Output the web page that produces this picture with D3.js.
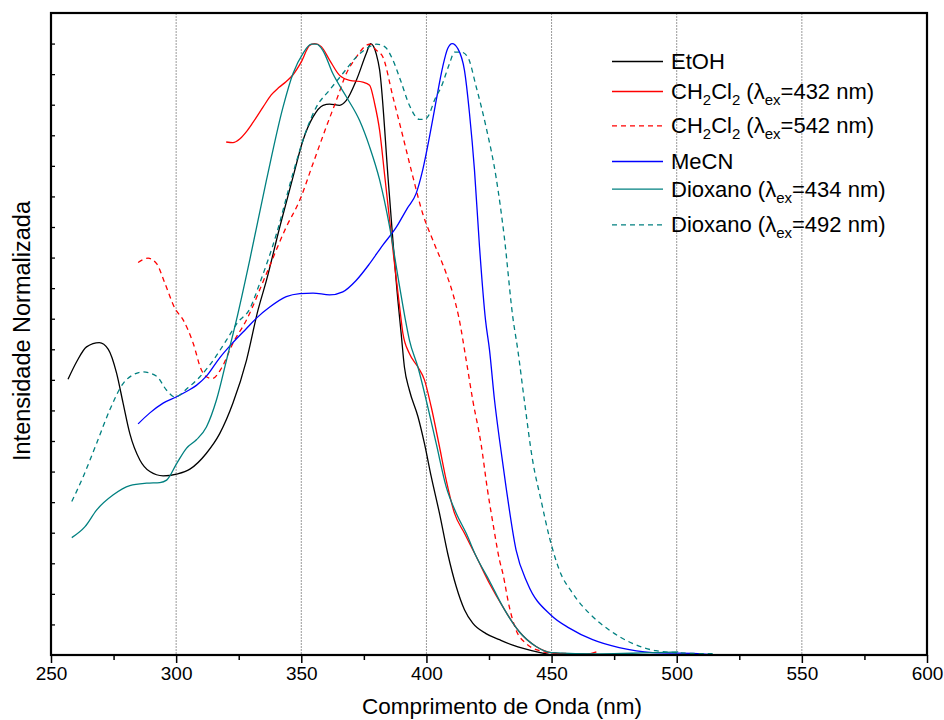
<!DOCTYPE html>
<html>
<head>
<meta charset="utf-8">
<script src="https://cdn.jsdelivr.net/npm/d3@7"></script>
<style>
  html, body { margin: 0; padding: 0; background: #fff; }
  svg { display: block; font-family: "Liberation Sans", Arial, Helvetica, sans-serif; }
</style>
</head>
<body>
<svg id="chart" width="944" height="720"></svg>
<script>
// ---------------- DATA (wavelength nm, normalized intensity) ----------------
const etoh = [[256.8,0.451],[260.3,0.480],[264.2,0.504],[269.3,0.511],[272.9,0.500],[276.2,0.461],[278.8,0.412],[281.5,0.362],[285.5,0.319],[289.5,0.300],[294.8,0.293],[300.2,0.296],[305.5,0.304],[312.1,0.330],[317.4,0.362],[322.7,0.412],[328.1,0.482],[332.7,0.564],[336.1,0.613],[341.4,0.700],[346.7,0.782],[350.7,0.842],[354.7,0.880],[358.7,0.899],[361.3,0.901],[365.3,0.899],[368.0,0.907],[372.0,0.940],[376.0,0.984],[377.7,1.0],[379.96,0.983],[381.3,0.957],[384.9,0.768],[388.6,0.580],[389.9,0.526],[391.2,0.471],[393.2,0.433],[396.6,0.390],[399.2,0.346],[401.9,0.292],[405.2,0.232],[408.5,0.166],[411.9,0.112],[415.2,0.074],[418.5,0.052],[423.8,0.035],[429.2,0.025],[434.5,0.016],[446.4,0.003],[449.9,0.0]];

const ch2cl2_432 = [[320.0,0.839],[322.7,0.838],[325.4,0.844],[328.1,0.856],[330.7,0.871],[334.7,0.896],[338.0,0.916],[341.0,0.928],[344.0,0.938],[346.7,0.949],[350.0,0.970],[353.3,0.997],[355.3,1.0],[358.0,0.995],[361.3,0.973],[365.3,0.948],[369.3,0.940],[374.6,0.937],[377.3,0.932],[379.3,0.902],[381.3,0.858],[383.3,0.785],[385.3,0.711],[387.3,0.638],[389.9,0.548],[390.6,0.526],[393.2,0.493],[396.6,0.471],[399.2,0.450],[401.9,0.406],[405.2,0.341],[407.9,0.286],[411.2,0.232],[415.2,0.199],[419.9,0.161],[425.2,0.117],[430.5,0.079],[437.1,0.038],[443.8,0.014],[449.8,0.004],[457.1,0.002],[465.1,0.002],[467.9,0.005]];

const ch2cl2_542 = [[284.8,0.642],[288.8,0.649],[292.2,0.640],[295.5,0.608],[299.5,0.567],[302.8,0.548],[306.8,0.510],[310.1,0.466],[312.1,0.455],[314.4,0.452],[318.1,0.469],[322.7,0.510],[328.1,0.548],[336.1,0.624],[344.0,0.700],[349.4,0.744],[354.7,0.804],[360.0,0.864],[364.0,0.907],[368.0,0.951],[372.0,0.978],[375.3,0.995],[377.3,0.999],[380.0,0.989],[382.6,0.978],[386.6,0.913],[390.6,0.848],[394.6,0.782],[398.5,0.722],[402.5,0.679],[407.9,0.624],[410.5,0.592],[412.9,0.553],[415.9,0.482],[418.5,0.417],[421.8,0.346],[424.4,0.270],[426.8,0.210],[429.2,0.155],[430.5,0.134],[433.1,0.079],[435.8,0.041],[439.8,0.019],[445.1,0.007],[450.4,0.003],[467.9,0.002]];

const mecn = [[284.8,0.378],[289.5,0.396],[294.8,0.412],[300.0,0.422],[304.1,0.431],[308.1,0.441],[312.1,0.456],[317.4,0.486],[322.7,0.511],[328.1,0.534],[332.1,0.551],[337.4,0.569],[344.0,0.586],[349.4,0.591],[354.7,0.592],[361.3,0.589],[366.6,0.594],[372.0,0.613],[377.3,0.640],[382.5,0.670],[387.7,0.698],[392.4,0.731],[395.9,0.755],[398.5,0.793],[401.2,0.847],[403.9,0.907],[406.5,0.962],[408.5,0.992],[410.3,1.0],[412.5,0.992],[415.2,0.956],[417.2,0.886],[419.2,0.793],[421.2,0.668],[423.6,0.548],[425.2,0.499],[427.2,0.417],[429.2,0.352],[431.8,0.275],[435.8,0.172],[440.4,0.117],[449.8,0.065],[457.1,0.044],[466.4,0.025],[477.0,0.012],[490.3,0.004],[510.3,0.002],[512.9,0.001]];

const diox_434 = [[258.3,0.192],[263.6,0.210],[268.2,0.237],[274.9,0.262],[281.5,0.277],[288.2,0.281],[293.5,0.282],[296.2,0.286],[300.2,0.313],[304.1,0.338],[308.1,0.352],[312.1,0.373],[316.1,0.417],[320.1,0.482],[324.1,0.548],[329.4,0.646],[336.1,0.777],[342.7,0.896],[346.7,0.951],[350.7,0.984],[354.0,0.999],[356.0,0.999],[358.6,0.989],[362.6,0.951],[368.0,0.913],[373.3,0.874],[377.3,0.831],[381.3,0.777],[385.3,0.700],[389.3,0.602],[391.6,0.548],[393.2,0.515],[396.6,0.471],[399.9,0.417],[403.9,0.346],[407.9,0.275],[411.9,0.232],[415.9,0.199],[419.9,0.161],[425.2,0.121],[430.5,0.079],[437.1,0.038],[443.8,0.014],[449.8,0.004],[469.1,0.002],[500.6,0.005]];

const diox_492 = [[258.3,0.251],[262.9,0.292],[268.2,0.346],[273.5,0.401],[278.8,0.444],[282.7,0.458],[286.8,0.463],[292.2,0.456],[296.2,0.433],[299.5,0.422],[304.7,0.437],[309.5,0.455],[314.8,0.482],[320.1,0.515],[324.6,0.544],[329.4,0.566],[333.4,0.608],[340.1,0.689],[346.7,0.788],[352.0,0.858],[356.0,0.896],[361.3,0.924],[366.6,0.951],[372.0,0.978],[377.3,0.995],[380.0,0.999],[383.3,0.995],[386.6,0.973],[389.9,0.937],[393.2,0.899],[397.2,0.876],[399.2,0.876],[400.5,0.880],[403.6,0.911],[405.9,0.929],[409.2,0.967],[411.2,0.986],[413.9,0.986],[416.5,0.978],[419.9,0.929],[423.8,0.864],[427.8,0.782],[431.1,0.684],[434.5,0.553],[436.5,0.499],[439.1,0.417],[442.4,0.319],[445.8,0.253],[449.1,0.193],[453.1,0.139],[458.4,0.101],[465.1,0.068],[473.0,0.041],[482.3,0.019],[491.7,0.007],[503.6,0.003],[515.6,0.002]];

const xTicks = [250, 300, 350, 400, 450, 500, 550, 600];
const xMinorTicks = [275, 325, 375, 425, 475, 525, 575];
const xGrid = [300, 350, 400, 450, 500, 550];
const yTicks = d3.range(1, 21).map(i => i * 0.05);

const xTitle = "Comprimento de Onda (nm)";
const yTitle = "Intensidade Normalizada";

// legend entries: parts = [text, isSubscript]
const series = [
  { data: etoh,       color: "#000000", dash: null,  label: [["EtOH", false]] },
  { data: ch2cl2_432, color: "#ff0000", dash: null,  label: [["CH", false],["2", true],["Cl", false],["2", true],[" (\u03bb", false],["ex", true],["=432 nm)", false]] },
  { data: ch2cl2_542, color: "#ff0000", dash: "5,4", label: [["CH", false],["2", true],["Cl", false],["2", true],[" (\u03bb", false],["ex", true],["=542 nm)", false]] },
  { data: mecn,       color: "#0000ff", dash: null,  label: [["MeCN", false]] },
  { data: diox_434,   color: "#008080", dash: null,  label: [["Dioxano (\u03bb", false],["ex", true],["=434 nm)", false]] },
  { data: diox_492,   color: "#008080", dash: "5,4", label: [["Dioxano (\u03bb", false],["ex", true],["=492 nm)", false]] }
];

// ---------------- LAYOUT ----------------
const svg = d3.select("#chart");
const L = 51, R = 927, T = 13, B = 655;
const x = d3.scaleLinear().domain([250, 600]).range([L, R]);
const y = d3.scaleLinear().domain([0, 1.05]).range([B, T]);

// grid
svg.append("g").selectAll("line").data(xGrid).join("line")
  .attr("x1", d => x(d)).attr("x2", d => x(d))
  .attr("y1", T).attr("y2", B)
  .attr("stroke", "#9a9a9a").attr("stroke-width", 1)
  .attr("stroke-dasharray", "2,1");

// curves
const line = d3.line().x(d => x(d[0])).y(d => y(d[1])).curve(d3.curveMonotoneX);
svg.append("clipPath").attr("id", "clip").append("rect")
  .attr("x", L).attr("y", T).attr("width", R - L).attr("height", B - T);
const gLines = svg.append("g").attr("clip-path", "url(#clip)");
series.forEach(s => {
  gLines.append("path").datum(s.data)
    .attr("d", line)
    .attr("fill", "none")
    .attr("stroke", s.color)
    .attr("stroke-width", 1.3)
    .attr("stroke-dasharray", s.dash);
});

// bottom axis
const xAxis = d3.axisBottom(x).tickValues(xTicks).tickSize(8).tickPadding(4).tickFormat(d3.format("d"));
const gx = svg.append("g").attr("transform", `translate(0,${B})`).call(xAxis);
gx.select(".domain").remove();
gx.selectAll(".tick line").attr("stroke", "#000").attr("stroke-width", 1.5);
gx.selectAll(".tick text").attr("font-size", 19).attr("fill", "#000")
  .attr("font-family", "'Liberation Sans', Arial, sans-serif");
const xMinor = d3.axisBottom(x).tickValues(xMinorTicks).tickSize(5).tickFormat("");
const gxm = svg.append("g").attr("transform", `translate(0,${B})`).call(xMinor);
gxm.select(".domain").remove();
gxm.selectAll(".tick line").attr("stroke", "#000").attr("stroke-width", 1.5);

// left axis (inward ticks, no labels)
const yAxis = d3.axisRight(y).tickValues(yTicks).tickSize(4).tickFormat("");
const gy = svg.append("g").attr("transform", `translate(${L},0)`).call(yAxis);
gy.select(".domain").remove();
gy.selectAll(".tick line").attr("stroke", "#000").attr("stroke-width", 1.3);

// frame
svg.append("rect").attr("x", L).attr("y", T).attr("width", R - L).attr("height", B - T)
  .attr("fill", "none").attr("stroke", "#000").attr("stroke-width", 2.2);

// titles
svg.append("text").attr("x", 502).attr("y", 714).attr("text-anchor", "middle")
  .attr("font-size", 22.5).attr("fill", "#000").text(xTitle);
svg.append("text").attr("transform", "translate(30,331) rotate(-90)")
  .attr("text-anchor", "middle").attr("font-size", 23.5).attr("fill", "#000").text(yTitle);

// legend
const rowBaselines = [69, 99, 133.3, 169, 196.7, 232.3];
const legend = svg.append("g");
series.forEach((s, i) => {
  const by = rowBaselines[i];
  legend.append("line").attr("x1", 612).attr("x2", 663)
    .attr("y1", by - 7.5).attr("y2", by - 7.5)
    .attr("stroke", s.color).attr("stroke-width", 1.3)
    .attr("stroke-dasharray", s.dash);
  const t = legend.append("text").attr("x", 671).attr("y", by)
    .attr("font-size", 22).attr("fill", "#000");
  let prevSub = false;
  s.label.forEach(([txt, sub]) => {
    const ts = t.append("tspan").text(txt);
    if (sub) { ts.attr("font-size", 15).attr("dy", prevSub ? 0 : 6); }
    else { ts.attr("dy", prevSub ? -6 : 0); }
    prevSub = sub;
  });
});
</script>
</body>
</html>
